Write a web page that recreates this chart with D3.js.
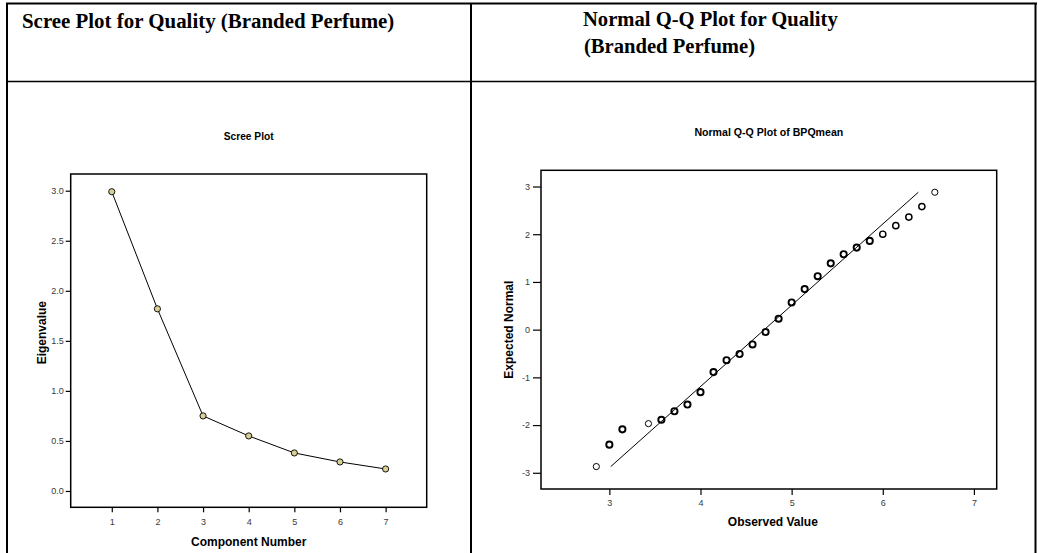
<!DOCTYPE html>
<html>
<head>
<meta charset="utf-8">
<script src="https://cdn.jsdelivr.net/npm/d3@7"></script>
<style>
  body { margin: 0; background: #fff; }
  svg { display: block; }
  .tick text { font-family: "Liberation Sans", Arial, sans-serif; font-size: 9px; fill: #3a3a3a; }
  .tick line { stroke: #000; stroke-width: 1.2; }
</style>
</head>
<body>
<svg id="fig" width="1038" height="553"></svg>
<script>
// Scree plot: eigenvalues of the seven quality items
const components = [1, 2, 3, 4, 5, 6, 7];
const eigenvalues = [2.99, 1.82, 0.75, 0.55, 0.38, 0.29, 0.22];
const screeYTicks = [0.0, 0.5, 1.0, 1.5, 2.0, 2.5, 3.0];
const screeXTicks = [1, 2, 3, 4, 5, 6, 7];

// Normal Q-Q plot of BPQmean: observed item means and their expected normal scores
const observedValues = [2.857, 3.000, 3.143, 3.429, 3.571, 3.714, 3.857, 4.000, 4.143, 4.286,
                        4.429, 4.571, 4.714, 4.857, 5.000, 5.143, 5.286, 5.429, 5.571, 5.714,
                        5.857, 6.000, 6.143, 6.286, 6.429, 6.571];
const expectedNormal = [-2.87, -2.41, -2.09, -1.97, -1.89, -1.71, -1.57, -1.31, -0.89, -0.64,
                        -0.51, -0.31, -0.05, 0.23, 0.57, 0.85, 1.12, 1.39, 1.58, 1.72,
                        1.86, 2.00, 2.18, 2.36, 2.58, 2.88];
// cases sharing each observed value
const tieCounts = [1, 3, 3, 1, 3, 3, 3, 3, 3, 3, 3, 3, 3, 3, 3, 3, 3, 3, 3, 3, 3, 2, 2, 2, 2, 1];
const sampleMean = 4.70;
const sampleSD = 0.587;
const qqXTicks = [3, 4, 5, 6, 7];
const qqYTicks = [-3, -2, -1, 0, 1, 2, 3];

const svg = d3.select("#fig");
const sans = '"Liberation Sans", Arial, sans-serif';
const serif = '"Liberation Serif", "Times New Roman", serif';
const plainInt = d => String(d);   // hyphen-minus for negatives

svg.append("rect").attr("width", 1038).attr("height", 553).attr("fill", "#fff");

// ---- table grid and cell headings ----
const grid = svg.append("g").attr("stroke", "#000").attr("stroke-width", 2);
grid.append("line").attr("x1", 6).attr("x2", 1037).attr("y1", 3.5).attr("y2", 3.5);
grid.append("line").attr("x1", 7).attr("x2", 7).attr("y1", 3).attr("y2", 553);
grid.append("line").attr("x1", 471).attr("x2", 471).attr("y1", 3).attr("y2", 553);
grid.append("line").attr("x1", 1035.5).attr("x2", 1035.5).attr("y1", 3).attr("y2", 553);
grid.append("line").attr("x1", 7).attr("x2", 1036).attr("y1", 81.5).attr("y2", 81.5).attr("stroke-width", 1.6);

const headings = svg.append("g")
  .attr("font-family", serif).attr("font-weight", "bold").attr("fill", "#000");
headings.append("text").attr("x", 22).attr("y", 28.3).attr("font-size", 20.9)
  .text("Scree Plot for Quality (Branded Perfume)");
headings.append("text").attr("x", 583).attr("y", 26).attr("font-size", 20.6)
  .text("Normal Q-Q Plot for Quality");
headings.append("text").attr("x", 584).attr("y", 52.8).attr("font-size", 20.6)
  .text("(Branded Perfume)");

// ---- Scree plot ----
const sf = { left: 70.7, right: 426.7, top: 174, bottom: 507.3 };
const sx = d3.scaleLinear().domain([0.1, 7.9]).range([sf.left, sf.right]);
const sy = d3.scaleLinear().domain([-0.163, 3.167]).range([sf.bottom, sf.top]);

const scree = svg.append("g");
scree.append("text")
  .attr("x", (sf.left + sf.right) / 2).attr("y", 140)
  .attr("text-anchor", "middle").attr("font-family", sans).attr("font-weight", "bold")
  .attr("font-size", 10.2).text("Scree Plot");

scree.append("rect")
  .attr("x", sf.left).attr("y", sf.top)
  .attr("width", sf.right - sf.left).attr("height", sf.bottom - sf.top)
  .attr("fill", "none").attr("stroke", "#000").attr("stroke-width", 1.5);

scree.append("g")
  .attr("transform", `translate(${sf.left},0)`)
  .call(d3.axisLeft(sy).tickValues(screeYTicks).tickFormat(d3.format(".1f")).tickSize(5).tickPadding(2))
  .call(g => g.select(".domain").remove());

scree.append("g")
  .attr("transform", `translate(0,${sf.bottom})`)
  .call(d3.axisBottom(sx).tickValues(screeXTicks).tickFormat(plainInt).tickSize(5).tickPadding(6))
  .call(g => g.select(".domain").remove());

scree.append("text")
  .attr("x", (sf.left + sf.right) / 2).attr("y", 546)
  .attr("text-anchor", "middle").attr("font-family", sans).attr("font-weight", "bold")
  .attr("font-size", 12).text("Component Number");

scree.append("text")
  .attr("transform", `translate(46,${(sf.top + sf.bottom) / 2 - 8}) rotate(-90)`)
  .attr("text-anchor", "middle").attr("font-family", sans).attr("font-weight", "bold")
  .attr("font-size", 12).text("Eigenvalue");

const screePts = components.map((c, i) => [c, eigenvalues[i]]);
scree.append("path")
  .datum(screePts)
  .attr("d", d3.line().x(d => sx(d[0])).y(d => sy(d[1])))
  .attr("fill", "none").attr("stroke", "#000").attr("stroke-width", 1);

scree.append("g").selectAll("circle")
  .data(screePts).join("circle")
  .attr("cx", d => sx(d[0])).attr("cy", d => sy(d[1])).attr("r", 3.1)
  .attr("fill", "#d8cf94").attr("stroke", "#000").attr("stroke-width", 0.9);

// ---- Normal Q-Q plot ----
const qf = { left: 541, right: 996.7, top: 170.3, bottom: 489 };
const qx = d3.scaleLinear().domain([2.25, 7.25]).range([qf.left, qf.right]);
const qy = d3.scaleLinear().domain([-3.34, 3.34]).range([qf.bottom, qf.top]);

const qq = svg.append("g");
qq.append("text")
  .attr("x", (qf.left + qf.right) / 2).attr("y", 136)
  .attr("text-anchor", "middle").attr("font-family", sans).attr("font-weight", "bold")
  .attr("font-size", 10.6).text("Normal Q-Q Plot of BPQmean");

qq.append("rect")
  .attr("x", qf.left).attr("y", qf.top)
  .attr("width", qf.right - qf.left).attr("height", qf.bottom - qf.top)
  .attr("fill", "none").attr("stroke", "#000").attr("stroke-width", 1.5);

qq.append("g")
  .attr("transform", `translate(${qf.left},0)`)
  .call(d3.axisLeft(qy).tickValues(qqYTicks).tickFormat(plainInt).tickSize(8).tickPadding(3))
  .call(g => g.select(".domain").remove());

qq.append("g")
  .attr("transform", `translate(0,${qf.bottom})`)
  .call(d3.axisBottom(qx).tickValues(qqXTicks).tickFormat(plainInt).tickSize(6).tickPadding(5))
  .call(g => g.select(".domain").remove());

qq.append("text")
  .attr("x", (qf.left + qf.right) / 2 + 4).attr("y", 526)
  .attr("text-anchor", "middle").attr("font-family", sans).attr("font-weight", "bold")
  .attr("font-size", 12).text("Observed Value");

qq.append("text")
  .attr("transform", `translate(513,${(qf.top + qf.bottom) / 2}) rotate(-90)`)
  .attr("text-anchor", "middle").attr("font-family", sans).attr("font-weight", "bold")
  .attr("font-size", 12).text("Expected Normal");

// expected normal line through the sample mean with slope 1/SD
const zRange = d3.extent(expectedNormal);
qq.append("path")
  .datum(zRange.map(z => [sampleMean + z * sampleSD, z]))
  .attr("d", d3.line().x(d => qx(d[0])).y(d => qy(d[1])))
  .attr("fill", "none").attr("stroke", "#000").attr("stroke-width", 1);

const strokeByTies = d3.scaleLinear().domain([1, 3]).range([1, 1.9]);
qq.append("g").selectAll("circle")
  .data(observedValues.map((v, i) => ({ v, z: expectedNormal[i], n: tieCounts[i] })))
  .join("circle")
  .attr("cx", d => qx(d.v)).attr("cy", d => qy(d.z)).attr("r", 3.1)
  .attr("fill", "none").attr("stroke", "#000").attr("stroke-width", d => strokeByTies(d.n));
</script>
</body>
</html>
